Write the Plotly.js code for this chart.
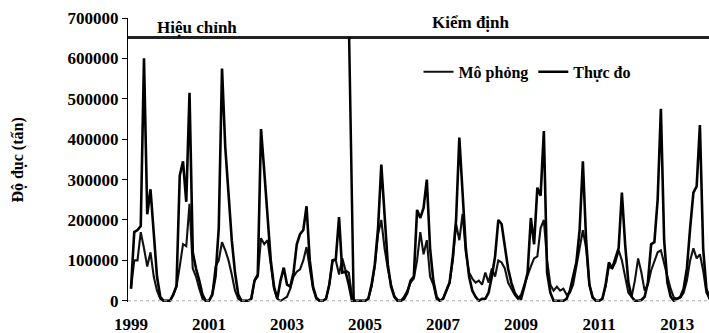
<!DOCTYPE html>
<html>
<head>
<meta charset="utf-8">
<script src="https://cdn.plot.ly/plotly-3.0.1.min.js"></script>
<style>html,body{margin:0;padding:0;background:#fff;}#chart{width:709px;height:333px;}</style>
</head>
<body>
<div id="chart"></div>
<script>
// Monthly series, Jan 1999 onward (tonnes, thousands)
const yearLabels = ['1999','2001','2003','2005','2007','2009','2011','2013'];
const yearTickIndex = [0,24,48,72,96,120,144,168];
const seriesNames = ['Mô phỏng','Thực đo'];

const moPhong = [
  30,100,100,170,130,85,120,60,25,5,0,0,
  0,15,35,85,140,135,240,80,60,30,5,0,
  0,15,85,100,145,125,100,65,25,5,0,0,
  0,5,50,60,155,140,150,90,30,5,0,5,
  10,30,60,72,78,100,133,80,30,5,0,0,
  5,40,100,100,65,105,75,70,10,0,0,0,
  0,5,35,85,165,200,130,80,40,12,2,0,
  10,25,45,55,100,170,115,150,60,40,5,0,
  5,25,45,100,190,150,215,120,70,55,45,50,
  40,70,45,80,60,100,95,80,45,30,15,5,
  15,40,65,85,105,110,180,200,100,40,25,35,
  25,30,15,20,40,85,120,175,130,40,10,0,
  0,5,35,85,80,95,125,100,60,20,10,50,
  105,70,25,40,75,100,120,125,90,60,30,8,
  5,8,20,50,100,130,105,115,75,20,5,0
];
const thucDo = [
  30,170,175,185,600,214,276,160,60,10,0,0,
  0,15,37,310,345,245,515,120,80,50,15,0,
  0,15,60,180,575,380,260,150,70,15,0,0,
  0,5,50,65,425,320,200,100,35,5,50,82,
  40,35,70,140,165,175,234,100,35,8,0,0,
  5,40,100,103,207,70,72,40,0,0,0,0,
  0,5,40,90,180,337,200,90,35,10,0,0,
  5,20,50,60,225,205,230,300,130,50,10,0,
  5,25,45,110,200,404,280,130,60,25,10,0,
  5,5,20,60,110,200,190,130,80,45,20,8,
  5,35,70,205,140,280,260,420,70,20,0,0,
  0,0,5,25,60,95,175,345,150,40,8,0,
  0,5,40,95,80,105,130,268,140,45,10,0,
  0,2,10,45,140,145,250,475,150,45,10,0,
  5,10,30,80,180,268,283,435,130,30,5,0
];
const periodLabels = ['Hiệu chỉnh','Kiểm định'];
const splitIndex = 67.1;      // calibration / validation boundary (month index)
const headerLevel = 652000;   // header rule level

const idx = moPhong.map((_, i) => i);
const toT = a => a.map(v => v * 1000);
const serif = 'Liberation Serif';
const bold = (s, c) => ({family: serif, size: s, color: c || '#000', weight: 'bold'});

const traces = [
  {x: idx, y: toT(moPhong), name: seriesNames[0], type: 'scatter', mode: 'lines',
   line: {color: '#111', width: 2.1}},
  {x: idx, y: toT(thucDo), name: seriesNames[1], type: 'scatter', mode: 'lines',
   line: {color: '#000', width: 2.6}}
];

const layout = {
  width: 709, height: 333,
  margin: {l: 128, r: 0, t: 18, b: 31},
  paper_bgcolor: '#fff', plot_bgcolor: '#fff',
  font: {family: serif},
  showlegend: true,
  legend: {orientation: 'h', x: 0.5, xanchor: 'left', y: 0.87, yanchor: 'top',
           font: bold(16), bgcolor: 'rgba(0,0,0,0)', itemwidth: 30},
  xaxis: {range: [-0.92, 177.8], tickvals: yearTickIndex, ticktext: yearLabels,
          showgrid: false, zeroline: false, showline: false, ticks: '',
          ticklabelstandoff: 10, tickfont: bold(17)},
  yaxis: {range: [-3000, 700000], tickvals: [0,100000,200000,300000,400000,500000,600000,700000],
          tickformat: 'd', showgrid: false, zeroline: false, showline: true,
          linecolor: '#000', linewidth: 1.2, ticks: 'outside', ticklen: 5, tickcolor: '#000',
          tickfont: bold(17)},
  shapes: [
    {type: 'line', xref: 'paper', x0: 0, x1: 1, yref: 'y', y0: headerLevel, y1: headerLevel,
     line: {color: '#222', width: 3}},
    {type: 'line', xref: 'x', x0: splitIndex, x1: splitIndex + 1.4, yref: 'y', y0: headerLevel, y1: 0,
     line: {color: '#000', width: 2.5}},
    {type: 'line', xref: 'paper', x0: 0, x1: 1, yref: 'y', y0: 0, y1: 0,
     line: {color: '#aaa', width: 1, dash: 'dot'}}
  ],
  annotations: [
    {text: periodLabels[0], xref: 'x', x: 20.3, yref: 'y', y: 648000, yanchor: 'bottom', showarrow: false,
     font: bold(17)},
    {text: periodLabels[1], xref: 'x', x: 104.6, yref: 'y', y: 660000, yanchor: 'bottom', showarrow: false,
     font: bold(17)},
    {text: 'Độ đục (tấn)', xref: 'paper', x: -0.19, xanchor: 'center', yref: 'paper', y: 0.5,
     yanchor: 'middle', textangle: -90, showarrow: false, font: bold(16)}
  ]
};

Plotly.newPlot('chart', traces, layout, {staticPlot: true, displayModeBar: false});
</script>
</body>
</html>
